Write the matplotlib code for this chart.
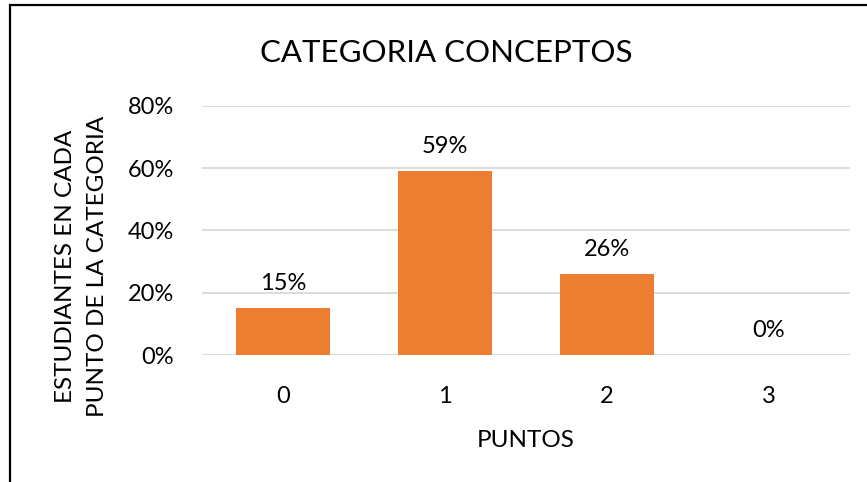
import matplotlib
matplotlib.use('Agg')
import matplotlib.pyplot as plt
from matplotlib.patches import Rectangle

# datos
puntos = ['0', '1', '2', '3']
porcentajes = [0.15, 0.59, 0.26, 0.0]
etiquetas_y = ['0%', '20%', '40%', '60%', '80%']
valores_y = [0.0, 0.2, 0.4, 0.6, 0.8]

plt.rcParams['font.family'] = ['Lato', 'DejaVu Sans']

fig = plt.figure(figsize=(8.67, 4.82), dpi=100)
W, H = 867, 482

# marco del area del grafico (cortado a la derecha y abajo)
fig.patches.append(Rectangle((10 / W, -0.1), 1.2, 1 - 5 / H + 0.1,
                             transform=fig.transFigure, fill=False,
                             edgecolor='black', linewidth=1.6))

ax = fig.add_axes([202 / W, (H - 355) / H, 648 / W, 249 / H])
x = range(len(puntos))
bars = ax.bar(x, porcentajes, width=0.575, color='#ED7D31', zorder=3)

for b, v in zip(bars, porcentajes):
    ax.annotate('{:.0%}'.format(v), (b.get_x() + b.get_width() / 2, v),
                xytext=(0, 13), textcoords='offset points',
                ha='center', va='baseline', fontsize=17)

ax.set_xlim(-0.5, 3.5)
ax.set_ylim(0, 0.8)
ax.set_xticks(list(x))
ax.set_xticklabels(puntos)
ax.set_yticks(valores_y)
ax.set_yticklabels(etiquetas_y)
ax.tick_params(axis='both', length=0, labelsize=17)
ax.tick_params(axis='x', pad=22)
ax.tick_params(axis='y', pad=20)
ax.grid(axis='y', color='#d9d9d9', linewidth=1.3, zorder=0)
for s in ax.spines.values():
    s.set_visible(False)

ax.set_xlabel('PUNTOS', fontsize=17.5, labelpad=17)
ax.set_ylabel('ESTUDIANTES EN CADA\nPUNTO DE LA CATEGORIA', fontsize=17.5,
              linespacing=1.65)
ax.yaxis.set_label_coords(-0.145, 0.357)

fig.text(446 / W, 1 - 53 / H, 'CATEGORIA CONCEPTOS', ha='center',
         va='center', fontsize=22.5)

fig.savefig('out.png', dpi=100)
